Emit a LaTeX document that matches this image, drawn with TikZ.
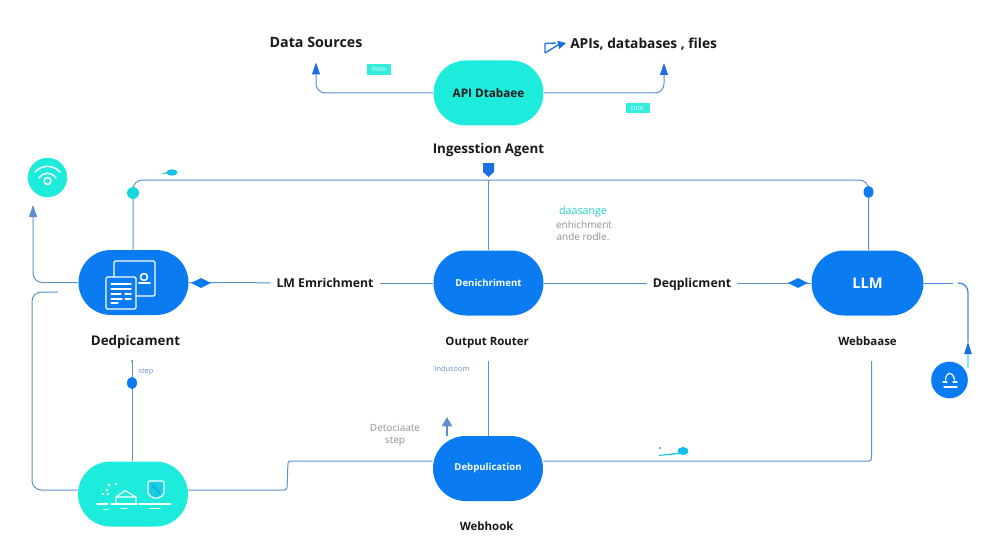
\documentclass[tikz,border=0pt]{standalone}
\usepackage{fontspec}
\setmainfont{Open Sans}
\usetikzlibrary{arrows.meta,positioning,shapes.misc,shapes.geometric}
\definecolor{pillblue}{HTML}{0A7BF0}
\definecolor{pillteal}{HTML}{1DEBDC}
\definecolor{wireblue}{HTML}{5C8FCB}
\definecolor{tipblue}{HTML}{1C6FE0}
\definecolor{textgray}{HTML}{8C9296}

\begin{document}
\begin{tikzpicture}
[x=0.75pt, y=-0.75pt, text=black!90,
wire/.style = {draw=wireblue, line width=0.75pt, rounded corners=7pt},
tipped/.style = {wire, -{Triangle[length=9pt,width=6pt,fill=#1,color=#1]}},
tipped/.default = tipblue,
pill/.style = {rounded rectangle, minimum width=82.5pt, minimum height=48.75pt, inner sep=0pt,
               font=\fontsize{7.2}{10}\selectfont\bfseries, text=white},
blue pill/.style = {pill, fill=pillblue},
teal pill/.style = {pill, fill=pillteal},
caption/.style = {inner sep=0pt, font=\fontsize{10}{12}\selectfont\bfseries,
                  text height=1.5ex, text depth=.25ex},
heading/.style = {caption, font=\fontsize{10.7}{13}\selectfont\bfseries},
edge label/.style = {caption, inner xsep=4.5pt, font=\fontsize{9.2}{11}\selectfont\bfseries},
small caption/.style = {caption, font=\fontsize{8.6}{11}\selectfont\bfseries},
joint/.style = {diamond, aspect=2, fill=pillblue, minimum width=15pt, minimum height=7.5pt, inner sep=0pt},
drop/.style = {ellipse, fill=pillblue, minimum width=7.5pt, minimum height=9pt, inner sep=0pt},
tag/.style = {fill=pillteal!90, text=white, minimum width=18pt, minimum height=8pt, inner sep=0pt,
              font=\fontsize{5}{6}\selectfont},
note/.style = {inner sep=0pt, text=textgray, font=\fontsize{7.5}{9}\selectfont},
tiny note/.style = {inner sep=0pt, text=wireblue, font=\fontsize{5.5}{7}\selectfont},
icon/.style = {draw=white, line width=0.9pt, line cap=round, line join=round}]

\useasboundingbox (0,0) rectangle (1000,560);

% pills
\node[teal pill, text=black!90, font=\fontsize{8.8}{10}\selectfont\bfseries] (api) at (488.5,93) {API Dtabaee};
\node[blue pill] (dedup) at (133.5,282.5) {};
\node[blue pill] (denrich) at (488.5,283) {Denichriment};
\node[blue pill, minimum width=84pt, font=\fontsize{11}{13}\selectfont\bfseries] (llm) at (867.5,283) {LLM};
\node[teal pill] (store) at (133,494) {};
\node[blue pill] (debup) at (488,468.5) {Debpulication};

% round badges
\node[circle, fill=pillteal, minimum size=29.5pt, inner sep=0pt] (wifi) at (47.5,177.5) {};
\node[circle, fill=pillblue, minimum size=27.5pt, inner sep=0pt] (boat) at (949.5,380) {};

% captions
\node[heading] (sources) at (316,43.5) {Data Sources};
\node[heading, anchor=west, font=\fontsize{10.3}{13}\selectfont\bfseries] (files) at (570,44) {APIs, databases , files};
\node[caption, below=12.5pt of api] (agent) {Ingesstion Agent};
\node[caption, below=14.5pt of dedup, xshift=1.5pt] (dedupcap) {Dedpicament};
\node[small caption, below=14pt of denrich, xshift=-1pt] (router) {Output Router};
\node[small caption, below=14pt of llm] (webbase) {Webbaase};
\node[small caption, below=14pt of debup, xshift=-1pt] (webhook) {Webhook};

% labels on the middle row
\node[edge label] (lmlabel) at (325,283) {LM Emrichment};
\node[edge label] (deplabel) at (692,283) {Deqplicment};

% tags and notes
\node[tag] (looo) at (379,69.5) {looo};
\node[tag] (tom) at (637.5,108) {tom};
\node[note, text=pillteal!90!black, font=\fontsize{8}{9}\selectfont] (daasange) at (583,212) {daasange};
\node[note] (enrich) at (584,224.5) {enhichment};
\node[note] (rodle) at (583,237) {ande rodle.};
\node[note, align=center] (detoc) at (395,435) {Detociaate\\step};
\node[tiny note] (stepnote) at (146,371.5) {step};
\node[tiny note] (indus) at (452,368.5) {Indusoom};

% free ends
\coordinate (upleft) at (316,62.5);
\coordinate (upright) at (664,63);
\coordinate (topleft) at (133,180);
\coordinate (topright) at (868.5,180);
\coordinate (topmid) at (488.5,180);
\coordinate (backend) at (58,292);
\coordinate (stepend) at (132,361);
\coordinate (routerend) at (488,361);
\coordinate (webend) at (871.5,361);
\coordinate (boattip) at (968,342);
\coordinate (wifitip) at (33,205);
\coordinate (llmgap) at (953,283);
\coordinate (llmback) at (958,283);

% connectors
\draw[tipped] (api.west) -| (upleft);
\draw[tipped] (api.east) -| (upright);
\draw[wire] (dedup.north -| topleft) -- (topleft) -- (topright) -- (llm.north -| topright);
\draw[wire] (topmid) -- (denrich.north);
\draw[wire] (denrich.east) -- (deplabel);
\draw[wire] (deplabel) -- (llm.west);
\draw[wire] (dedup.east) -- (lmlabel);
\draw[wire] (lmlabel) -- (denrich.west);
\draw[tipped=wireblue] (dedup.west) -| (wifitip);
\draw[wire] ([yshift=3pt]store.west) -| (32,292) -- (backend);
\draw[wire] (store.north -| stepend) -- (stepend);
\draw[wire, rounded corners=2pt] ([yshift=3pt]store.east) -- (287,490) -- (288,461) -- (debup.west |- 0,461);
\draw[wire, rounded corners=2pt] (debup.east |- 0,461) -| (webend);
\draw[wire] (debup.north) -- (routerend);
\draw[wire, draw=tipblue!80] (llm.east) -- (llmgap);
\draw[wire, draw=tipblue!80, line width=1pt] (llmback) -| (boattip);
\draw[draw=pillteal!60, line width=1pt, -{Triangle[length=9pt,width=5.5pt,color=tipblue]}] (968,368) -- (boattip);

% joints on the wires
\node[joint] (ljoint) at (201,283) {};
\node[joint] (rjoint) at (798,283) {};
\node[drop] (rdrop) at (868.5,192) {};
\node[drop] (sdrop) at (132,383) {};
\node[drop, fill=pillteal!80!pillblue, minimum width=9pt] (tdrop) at (133,193) {};
\fill[tipblue] (483,163) -- (494,163) -- (494,172) -- (488.5,177) -- (483,172) -- cycle;
\fill[pillteal!70!pillblue] (161,174) -- (168,171.5) -- (172,173.5) -- (168,173.5) -- cycle;
\fill[pillteal!60!pillblue] (172,172.5) ellipse (5.5 and 3.2);
\fill[pillteal!70!pillblue] (659,455) -- (680,452.5) -- (680,454) -- (659,456) -- cycle;
\fill[pillteal!60!pillblue] (683,451) ellipse (5.5 and 4);
\fill[wireblue] (660,448) circle (1.2);
\fill[wireblue] (132,361) circle (1.2);

% the arrows standing alone
\draw[draw=wireblue, line width=2.2pt, -{Triangle[length=7pt,width=7.5pt,color=wireblue]}] (447,436) -- (447,417);
\draw[tipblue, line width=1pt, line join=round] (545,53) -- (545,43.5) -- (556,43);
\draw[tipblue, line width=1pt, -{Triangle[length=6pt,width=6pt]}] (545,53) -- (558,45) -- (566,43);

% icon of the first pill
\draw[icon, rounded corners=1pt] (114,261) rectangle (155,296);
\draw[icon, rounded corners=1pt, fill=pillblue] (106,277) rectangle (136,309);
\draw[icon, line width=1.2pt] (144,277) circle (3.5);
\draw[icon, line width=1.2pt] (139,283) -- (150,283);
\foreach \yy/\xx in {284/131, 289/131, 294/121, 299/122, 303/118}
  \draw[icon, line width=0.8pt] (111,\yy) -- (\xx,\yy);
\draw[icon, line width=0.8pt] (125,294) -- (131,294) (125,299) -- (131,299);

% icon of the last pill
\foreach \xx/\yy in {103/494, 107/490, 109/485, 116/484, 108/494}
  \fill[white] (\xx,\yy) circle (1.4);
\draw[icon] (97,504) -- (108,504) (111,504) -- (137,504) (139,504) -- (171,504);
\draw[icon] (116,503) -- (116,497) -- (125,490.5) -- (136,497) -- (136,503) (116,497) -- (136,497);
\draw[icon, fill=pillblue!25!pillteal, rounded corners=1.5pt] (148,481) -- (164,481) -- (164,495) -- (156,499) -- (148,495) -- cycle;
\draw[pillblue, line width=0.5pt] (152,485) -- (160,493);
\draw[icon, line width=0.7pt] (150,508) -- (160,508) (104,509) -- (108,509) (121,508) -- (127,508);

% wifi badge
\draw[icon, line width=1.1pt] (47.5,181) circle (3.5);
\draw[icon, line width=1.1pt] (39,178) .. controls (44,171.5) and (51,171.5) .. (56,178);
\draw[icon, line width=1.1pt] (35,172) .. controls (42,164.5) and (53,164.5) .. (60,172);

% boat badge
\draw[icon, line width=0.9pt] (945.5,380) .. controls (946,371) and (953,371) .. (954.5,380);
\draw[icon, line width=0.9pt] (943,382) -- (947,382) (953,382) -- (957,382) (944,387) -- (957,387);

\end{tikzpicture}
\end{document}
